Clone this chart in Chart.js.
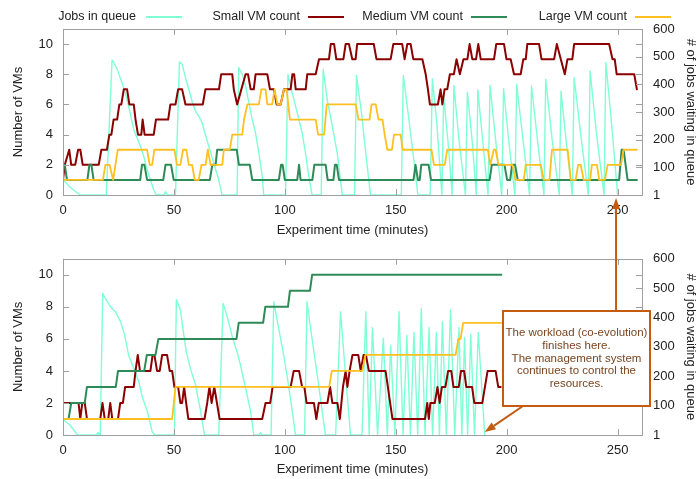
<!DOCTYPE html>
<html>
<head>
<meta charset="utf-8">
<script src="https://cdn.jsdelivr.net/npm/chart.js@4.4.1/dist/chart.umd.min.js"></script>
<style>
  body { margin: 0; background: #fff; font-family: "Liberation Sans", Arial, sans-serif; }
  #wrap { position: relative; width: 698px; height: 479px; }
  #top { position: absolute; left: 0; top: 0; }
  #bottom { position: absolute; left: 0; top: 240px; }
  #overlay { position: absolute; left: 0; top: 0; pointer-events: none; }
  .lg { position: absolute; top: 9px; font-size: 12.5px; color: #222; white-space: nowrap; }
  .ln { position: absolute; top: 16px; height: 1.6px; }
</style>
</head>
<body>
<div id="wrap">
  <canvas id="top" width="698" height="240"></canvas>
  <canvas id="bottom" width="698" height="239"></canvas>
  <canvas id="overlay" width="698" height="479"></canvas>
  <div class="lg" style="right:562px">Jobs in queue</div><div class="ln" style="left:146px;width:36px;background:#7fffd4"></div>
  <div class="lg" style="right:398px">Small VM count</div><div class="ln" style="left:308px;width:36px;background:#8b0000"></div>
  <div class="lg" style="right:235px">Medium VM count</div><div class="ln" style="left:471px;width:36px;background:#2e8b57"></div>
  <div class="lg" style="right:71px">Large VM count</div><div class="ln" style="left:635px;width:36px;background:#ffc020"></div>
</div>
<script>
// [minute, value] pairs
const xTicks = [0, 50, 100, 150, 200, 250];
const vmTicks = [0, 2, 4, 6, 8, 10];
const jobTicks = [0, 100, 200, 300, 400, 500, 600];
const jobTickLabels = ['1', '100', '200', '300', '400', '500', '600'];

// top panel
const jobsTop = [[0,55],[3,30],[6,10],[7.8,0],[19.5,0],[22.1,487],[22.9,479],[24.4,455],[25.9,421],[27.4,388],[28.9,345],[30.4,291],[31.9,236],[33.4,206],[34.9,176],[36.4,139],[37.9,91],[39.4,55],[40.9,18],[42,0],[45.4,0],[46.2,12],[47,0],[50.7,0],
  [52.5,481],[53.7,473],[55.2,424],[56.7,382],[58.2,339],[59.7,303],[61.2,285],[62.7,261],[64.2,218],[65.7,176],[68,115],[70.2,55],[71.7,0],[78.5,0],
  [79.2,461],[80.8,436],[82.3,394],[83.8,333],[85.3,273],[86.8,224],[88.3,152],[89.8,67],[90.5,0],[100.3,0],
  [101.4,436],[103.3,370],[105.6,297],[107.8,224],[109.3,152],[110.8,67],[112.3,0],[116.4,0],
  [117.3,455],[119.1,345],[121.4,248],[123.6,152],[125.9,0],[131.4,0],[132.3,432],[134.5,300],[136.5,150],[138.6,0],[152.5,0],
  [153.4,432],[155.5,300],[157.8,150],[160,0],[165.5,0],[166.5,420],[168.5,260],[170.8,0],[171.6,360],[173.8,170],[175.4,0],
  [176.2,396],[178.5,200],[181.4,0],[182.3,372],[184.5,190],[186.3,0],[187,380],[189.5,170],[191.6,0],[192.5,396],[195,200],[197.8,0],
  [198.6,384],[201,190],[203.7,0],[204.5,400],[207.5,190],[210.3,0],[211.2,394],[214,190],[216.8,0],[217.6,418],[220.5,200],[223.7,0],
  [224.5,376],[227,180],[229.6,0],[230.4,424],[233.5,210],[236.8,0],[237.6,448],[240.5,220],[243.9,0],[244.7,479],[247.5,240],[250,0]];

const smallTop = [[0,1],[0.8,2],[2.8,3],[3.7,2],[5.5,2],[6.8,3],[7.8,3],[8.9,2],[16.1,2],[17.3,3],[19.8,3],[20.9,4],[21.8,4],[22.8,5],[24.4,5],[25.4,6],[26.3,6],[27.4,7],[28.9,7],[29.9,6],[31.9,6],[32.7,5],[33.8,4],[35.3,4],[35.9,5],[36.8,4],[40.9,4],[41.9,5],[47.4,5],[48.4,6],[50.7,6],[51.9,7],[53.7,7],[55.2,6],[63,6],[64.2,7],[70.3,7],[71.3,8],[76.3,8],[77,7],[78.5,6],[80.4,7],[82.3,8],[83.4,8],[84.6,7],[86,7],[86.8,8],[92.1,8],[93.3,7],[95.1,7],[96.3,6],[98.1,6],[99.6,7],[102.6,7],[103.4,8],[104.2,8],[104.9,7],[109.4,7],[110.1,8],[113.9,8],[115.4,9],[119.9,9],[120.7,10],[122.2,10],[123.2,9],[126.4,9],[127.4,10],[128.9,10],[130.4,9],[131.9,9],[132.6,10],[140.1,10],[141.3,9],[147.7,9],[148.9,10],[152.9,10],[154,9],[155.2,10],[156.7,10],[157.9,9],[162,9],[163.5,8],[164.5,7],[165.4,6],[169,6],[170.2,7],[171,6],[172,7],[173.2,7],[174.4,8],[176.2,8],[177.4,9],[178.9,8],[180.5,9],[182.3,9],[183.3,10],[184.5,9],[186.2,9],[187.2,10],[188.3,9],[194.3,9],[195.3,10],[198.8,10],[199.9,9],[201.8,9],[203.3,8],[206.3,8],[207.5,9],[208.6,9],[209.3,10],[214.6,10],[215.7,9],[221.4,9],[222.6,10],[224.4,9],[226.2,8],[227.4,9],[229.6,9],[230.4,10],[246.2,10],[247.7,9],[248.7,9],[249.6,8],[257.5,8],[258.7,7]];

const mediumTop = [[0,2],[0.8,2],[1.8,1],[11,1],[11.9,2],[12.8,2],[13.8,1],[34.8,1],[35.6,2],[36.7,2],[37.9,1],[45.2,1],[46.2,2],[48.7,2],[49.9,1],[66.2,1],[67.3,2],[68.8,2],[69.5,3],[78.3,3],[79.3,2],[84.2,2],[85.3,1],[97.3,1],[98.3,2],[99,2],[100,1],[105.6,1],[106.4,2],[107.1,1],[112.4,1],[113.3,2],[118.4,2],[119.3,1],[121.9,1],[122.6,2],[123.4,2],[124.4,1],[158,1],[158.9,2],[160,1],[160.8,1],[161.5,2],[164.8,2],[165.9,1],[192.3,1],[193.3,2],[199,2],[200.2,1],[201.6,1],[202.4,2],[203.8,2],[205,1],[250.7,1],[251.8,3],[252.7,3],[254.5,1],[258.7,1]];

const largeTop = [[0,1],[18,1],[19.1,2],[21,2],[22.6,1],[24.7,3],[37.9,3],[39.1,2],[40.2,2],[41.2,3],[50.2,3],[51.4,2],[52.9,2],[54.1,3],[55.6,3],[56.7,2],[58.2,2],[59.4,1],[61.2,1],[62.4,2],[64.3,2],[65.3,3],[66.5,2],[71.8,2],[72.5,3],[75.2,3],[76.3,4],[80.8,4],[81.6,5],[83.1,6],[88.3,6],[89.4,7],[91.3,7],[92.1,6],[94.3,6],[95.4,7],[96.6,6],[98.1,6],[99.6,7],[100.8,7],[102.3,5],[113.9,5],[115,4],[117.7,4],[118.9,6],[132,6],[133.2,5],[138.2,5],[139.1,6],[141,6],[142.2,5],[144,5],[145,4],[146.2,3],[148.3,3],[149.2,4],[152.2,4],[153.1,3],[166.1,3],[167.2,2],[172.1,2],[173.2,3],[191.5,3],[192.6,2],[194.2,3],[195,3],[196.3,2],[202.6,2],[204,1],[207.7,1],[208.6,2],[215.4,2],[216.7,1],[219.3,1],[220.4,3],[227.5,3],[228.9,1],[231.1,1],[232.2,2],[233.4,2],[234.7,1],[237.6,1],[238.4,2],[240.7,2],[241.7,1],[244.3,1],[245.5,2],[251.5,2],[252.7,3],[258.7,3]];

// bottom panel
const jobsBottom = [[0,53],[3,35],[6.6,0],[15,0],[15.8,8],[16.5,0],[16.8,0],[17.9,483],[19.1,465],[21.4,437],[23.6,420],[25.9,387],[27.7,343],[29.6,271],[31.9,227],[34.1,183],[35.6,133],[37.9,83],[40.2,11],[41.2,0],[50.2,0],
  [51.1,461],[52.9,426],[54.1,360],[55.6,282],[57.4,227],[59.7,172],[62,83],[63.8,0],[70.2,0],
  [72.2,448],[74,404],[76.2,337],[78.5,282],[80,238],[82.3,160],[84.5,83],[86,0],[88.3,0],[89,8],[89.8,0],[93.8,0],
  [95,454],[97.3,360],[99.5,271],[101.4,183],[103.3,83],[104.8,0],[108.9,0],
  [110,454],[112.3,326],[114.6,205],[116.8,83],[118.3,0],[122.9,0],[125.1,420],[127.3,210],[129.6,0],[134.8,0],
  [136.5,420],[138,0],[139.5,365],[141.8,0],[144.4,330],[146.2,0],[147.7,304],[149.6,0],[151.5,420],[153.3,0],[155,340],[156.6,0],
  [158.2,349],[159.9,0],[161.5,431],[163.2,0],[165,365],[166.6,0],[168.3,349],[169.7,0],[171,387],[172.8,0],[174.7,426],[176.6,0],
  [178.5,365],[179.8,0],[181,332],[182.4,0],[183.8,343],[185.5,0],[187.2,349],[190.1,0]];

const smallBottom = [[0,2],[7,2],[7.8,1],[8.7,2],[9.8,2],[10.8,1],[16.8,1],[17.8,2],[18.8,1],[20.4,1],[21.3,2],[22.2,1],[24.8,1],[25.8,2],[27,2],[28,3],[31.9,3],[32.7,4],[33.7,5],[34.7,4],[39.4,4],[40.4,5],[41.2,5],[42.4,4],[43.6,4],[44.7,5],[46.9,5],[48.1,4],[49.2,4],[50.2,3],[51.9,3],[52.9,2],[53.7,2],[54.6,3],[55.5,2],[56.5,1],[63.8,1],[65,2],[66,3],[67,2],[68.2,3],[69.4,2],[70.6,1],[89.8,1],[91.3,2],[93.4,2],[94.5,3],[102.6,3],[104,4],[106.4,4],[107.8,3],[108.8,3],[109.8,2],[113.1,2],[114.2,1],[115.3,2],[119.2,2],[120.4,3],[121.4,2],[123.7,2],[124.8,1],[126.2,3],[127.4,4],[128.2,3],[129.2,4],[130.5,5],[133.1,5],[134.2,4],[135.5,5],[136.5,5],[137.9,4],[145.4,4],[148.5,1],[163.2,1],[164.2,2],[164.9,1],[165.6,2],[167.6,2],[168.8,3],[169.8,2],[170.8,3],[172.4,3],[173.6,4],[175,4],[176,3],[178.4,3],[179.4,4],[180.8,4],[181.8,3],[184.4,3],[185.4,2],[189,2],[191.4,4],[195,4],[196.2,3],[197.3,3]];

const mediumBottom = [[0,1],[2.5,1],[3.7,2],[9.8,2],[10.8,3],[23.8,3],[24.8,4],[36.6,4],[37.8,5],[41.7,5],[43,6],[78.2,6],[79.2,7],[90.2,7],[91.2,8],[101.4,8],[102.3,9],[111.3,9],[112.3,10],[197.6,10]];

const largeBottom = [[0,1],[49.2,1],[50.7,3],[120,3],[121.2,4],[134.9,4],[136.3,5],[177,5],[178.2,6],[179.2,6],[180.4,7],[197.6,7]];

const font = { family: '"Liberation Sans", Arial, sans-serif', size: 13 };
const ink = '#222';
const frame = '#a0a0a0';

const frameTicks = {
  id: 'frameTicks',
  afterDatasetsDraw(chart) {
    const { ctx, chartArea: a, scales } = chart;
    ctx.save();
    ctx.strokeStyle = frame;
    ctx.lineWidth = 1;
    ctx.beginPath();
    scales.x.ticks.forEach(t => {
      const x = Math.round(scales.x.getPixelForValue(t.value)) + 0.5;
      ctx.moveTo(x, a.bottom); ctx.lineTo(x, a.bottom - 6);
      ctx.moveTo(x, a.top); ctx.lineTo(x, a.top + 6);
    });
    scales.y.ticks.forEach(t => {
      const y = Math.round(scales.y.getPixelForValue(t.value)) + 0.5;
      ctx.moveTo(a.left, y); ctx.lineTo(a.left + 6, y);
      ctx.moveTo(a.right, y); ctx.lineTo(a.right - 6, y);
    });
    scales.y2.ticks.forEach(t => {
      const y = Math.round(scales.y2.getPixelForValue(t.value)) + 0.5;
      ctx.moveTo(a.right, y); ctx.lineTo(a.right - 6, y);
    });
    ctx.stroke();
    ctx.strokeRect(Math.round(a.left) + 0.5, Math.round(a.top) + 0.5, Math.round(a.right - a.left), Math.round(a.bottom - a.top));
    ctx.restore();
  }
};

function line(pairs, color, width, axis, order) {
  return {
    data: pairs.map(([x, y]) => ({ x, y })),
    borderColor: color, borderWidth: width, pointRadius: 0,
    borderJoinStyle: 'round', borderCapStyle: 'round',
    tension: 0, yAxisID: axis, order: order
  };
}

function panel(id, topPad, xHeight, sets) {
  return new Chart(document.getElementById(id), {
    type: 'line',
    data: { datasets: sets },
    options: {
      responsive: false,
      animation: false,
      events: [],
      layout: { padding: { top: topPad, left: 0, right: 0, bottom: 0 } },
      plugins: { legend: { display: false }, tooltip: { enabled: false } },
      scales: {
        x: {
          type: 'linear', min: 0, max: 261,
          afterBuildTicks: s => { s.ticks = xTicks.map(v => ({ value: v })); },
          afterFit: s => { s.height = xHeight; },
          grid: { display: false, drawTicks: false }, border: { display: false },
          ticks: { color: ink, font, padding: 8, maxRotation: 0 },
          title: { display: true, text: 'Experiment time (minutes)', color: ink, font, padding: { bottom: 2 } }
        },
        y: {
          position: 'left', min: 0, max: 11,
          afterBuildTicks: s => { s.ticks = vmTicks.map(v => ({ value: v })); },
          afterFit: s => { s.width = 63; },
          grid: { display: false, drawTicks: false }, border: { display: false },
          ticks: { color: ink, font, padding: 10 },
          title: { display: true, text: 'Number of VMs', color: ink, font, padding: { top: 11 } }
        },
        y2: {
          position: 'right', min: 0, max: 600,
          afterBuildTicks: s => { s.ticks = jobTicks.map(v => ({ value: v })); },
          afterFit: s => { s.width = 56; },
          grid: { display: false, drawTicks: false }, border: { display: false },
          ticks: { color: ink, font, padding: 11, callback: (v, i) => jobTickLabels[i] },
          title: { display: true, text: '# of jobs waiting in queue', color: ink, font, padding: { top: 0 } }
        }
      }
    },
    plugins: [frameTicks]
  });
}

const topChart = panel('top', 29, 45, [
  line(jobsTop, '#7fffd4', 1.4, 'y2', 3),
  line(smallTop, '#8b0000', 2, 'y', 2),
  line(mediumTop, '#2e8b57', 2, 'y', 1),
  line(largeTop, '#ffc020', 1.8, 'y', 0)
]);
const bottomChart = panel('bottom', 14, 44, [
  line(jobsBottom, '#7fffd4', 1.4, 'y2', 3),
  line(smallBottom, '#8b0000', 2, 'y', 2),
  line(mediumBottom, '#2e8b57', 2, 'y', 1),
  line(largeBottom, '#ffc020', 1.8, 'y', 0)
]);

// annotation box and arrows
function arrow(ctx, x1, y1, x2, y2) {
  const ang = Math.atan2(y2 - y1, x2 - x1);
  const len = 11, half = 4;
  const bx = x2 - len * Math.cos(ang), by = y2 - len * Math.sin(ang);
  ctx.beginPath();
  ctx.moveTo(x1, y1); ctx.lineTo(bx, by); ctx.stroke();
  ctx.beginPath();
  ctx.moveTo(x2, y2);
  ctx.lineTo(bx + half * Math.sin(ang), by - half * Math.cos(ang));
  ctx.lineTo(bx - half * Math.sin(ang), by + half * Math.cos(ang));
  ctx.closePath(); ctx.fill();
}

const ov = document.getElementById('overlay').getContext('2d');
const noteColor = '#c55a11';
ov.strokeStyle = noteColor;
ov.fillStyle = noteColor;
ov.lineWidth = 2;
const upX = topChart.scales.x.getPixelForValue(249.3);
arrow(ov, upX, 311, upX, topChart.chartArea.bottom + 3);
const dnX = bottomChart.scales.x.getPixelForValue(190.1);
arrow(ov, 523, 406, dnX, 240 + bottomChart.chartArea.bottom - 3);
ov.fillStyle = '#fff';
ov.fillRect(503, 311, 147, 95);
ov.strokeRect(503, 311, 147, 95);
ov.fillStyle = '#7a4520';
ov.font = '11.5px "Liberation Sans", Arial, sans-serif';
ov.textAlign = 'center';
ov.textBaseline = 'middle';
['The workload (co-evolution)', 'finishes here.', 'The management system', 'continues to control the', 'resources.']
  .forEach((t, i) => ov.fillText(t, 576.5, 333 + i * 12.7));
</script>
</body>
</html>
